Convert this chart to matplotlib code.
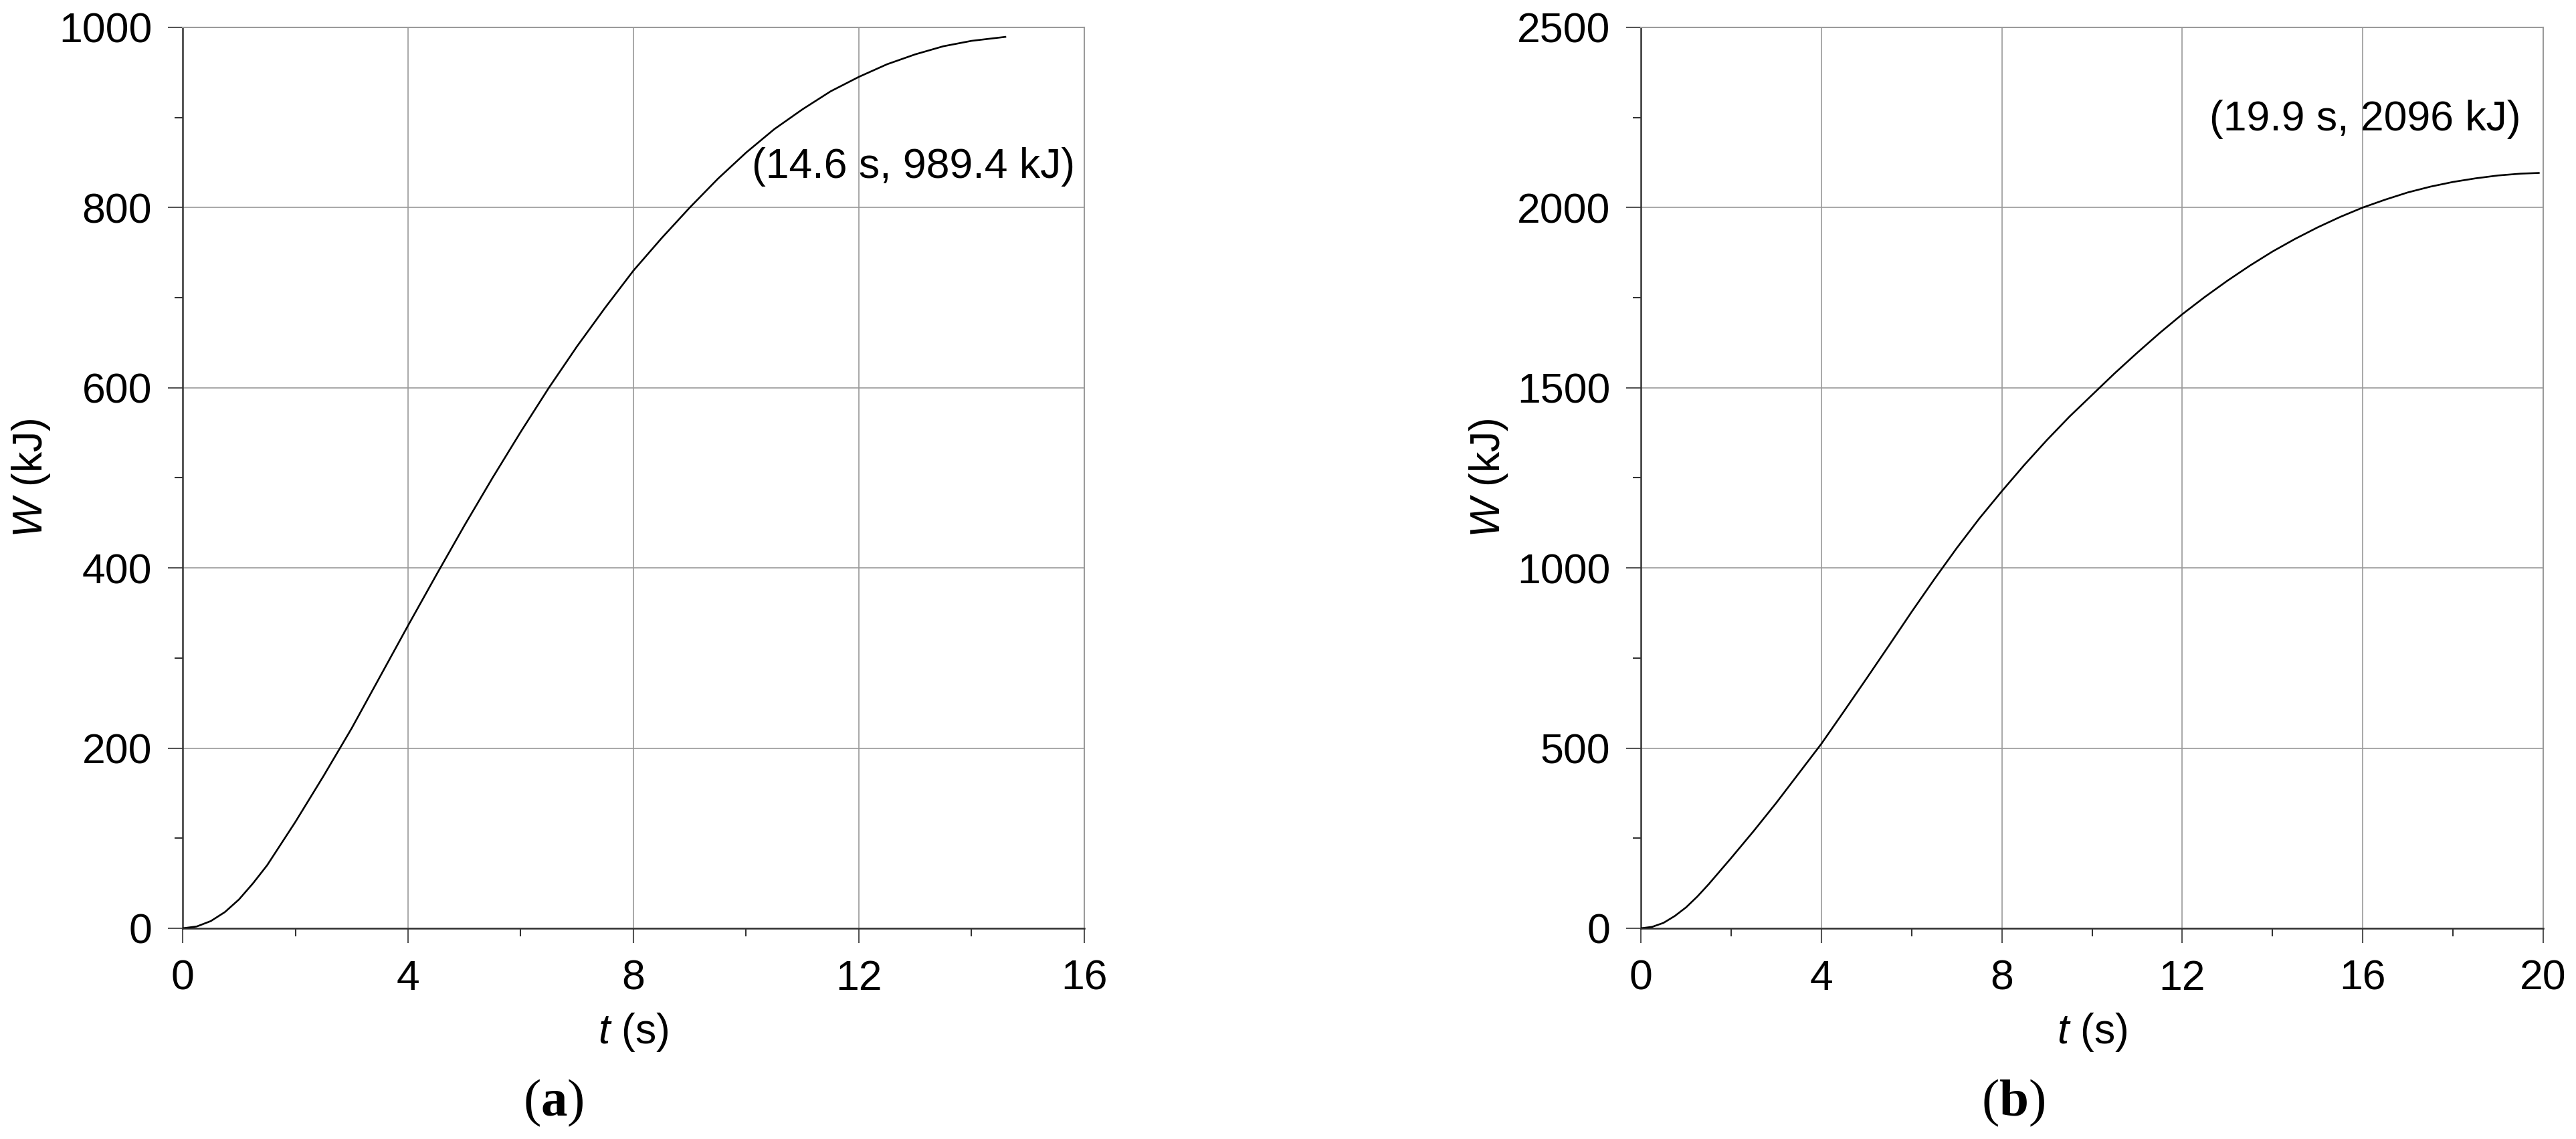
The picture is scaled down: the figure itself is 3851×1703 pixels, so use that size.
import matplotlib
matplotlib.use("Agg")
import matplotlib.pyplot as plt
from matplotlib.ticker import MultipleLocator

plt.rcParams['font.family'] = ['Liberation Sans', 'DejaVu Sans']
plt.rcParams['mathtext.fontset'] = 'custom'
plt.rcParams['mathtext.rm'] = 'Liberation Sans'
plt.rcParams['mathtext.it'] = 'Liberation Sans:italic'
plt.rcParams['mathtext.bf'] = 'Liberation Serif:bold'

# (a) work vs time
t_a = [0, 0.25, 0.5, 0.75, 1, 1.25, 1.5, 2, 2.5, 3, 3.5, 4, 4.5, 5, 5.5, 6,
       6.5, 7, 7.5, 8, 8.5, 9, 9.5, 10, 10.5, 11, 11.5, 12, 12.5, 13, 13.5,
       14, 14.6]
w_a = [0, 2, 8, 18, 32, 50, 70, 118, 169, 222, 279, 336, 392, 447, 500, 551,
       600, 646, 689, 730, 766, 800, 832, 861, 887, 909, 929, 945, 959, 970,
       979, 985, 989.4]

# (b)
t_b = [0, 0.25, 0.5, 0.75, 1, 1.25, 1.5, 2, 2.5, 3, 3.5, 4, 4.5, 5, 5.5, 6,
       6.5, 7, 7.5, 8, 8.5, 9, 9.5, 10, 10.5, 11, 11.5, 12, 12.5, 13, 13.5,
       14, 14.5, 15, 15.5, 16, 16.5, 17, 17.5, 18, 18.5, 19, 19.5, 19.9]
w_b = [0, 4, 15, 34, 58, 88, 122, 195, 270, 348, 430, 512, 602, 693, 785, 878,
       968, 1055, 1137, 1213, 1286, 1355, 1420, 1480, 1540, 1597, 1652, 1704,
       1752, 1797, 1839, 1878, 1913, 1945, 1974, 2000, 2022, 2042, 2058, 2071,
       2081, 2089, 2094, 2096]

notes = ['(14.6 s, 989.4 kJ)', '(19.9 s, 2096 kJ)']
panels = ['(a)', '(b)']

fs = 45
fig = plt.figure(figsize=(38.51, 17.03), dpi=100)
ax1 = fig.add_axes([0.0709, 0.1850, 0.3500, 0.7910])
ax2 = fig.add_axes([0.6370, 0.1850, 0.3503, 0.7910])

setups = [
    (ax1, t_a, w_a, 16, 1000, 4, 2, 200, 100, notes[0], (0.9896, 0.845)),
    (ax2, t_b, w_b, 20, 2500, 4, 2, 500, 250, notes[1], (0.975, 0.8976)),
]

for ax, t, w, xmax, ymax, xmaj, xmin_, ymaj, ymin_, note, pos in setups:
    ax.plot(t, w, color='black', lw=1.9, zorder=3)
    ax.set_xlim(0, xmax)
    ax.set_ylim(0, ymax)
    ax.xaxis.set_major_locator(MultipleLocator(xmaj))
    ax.xaxis.set_minor_locator(MultipleLocator(xmin_))
    ax.yaxis.set_major_locator(MultipleLocator(ymaj))
    ax.yaxis.set_minor_locator(MultipleLocator(ymin_))
    ax.grid(True, which='major', color='#9a9a9a', lw=1.2)
    ax.set_axisbelow(True)
    ax.tick_params(which='major', direction='out', length=16, width=1.5,
                   color='#555555', labelsize=fs, pad=17)
    ax.tick_params(which='minor', direction='out', length=8.5, width=1.5,
                   color='#333333')
    for s in ['left', 'bottom']:
        ax.spines[s].set_color('#333333')
        ax.spines[s].set_linewidth(1.8)
    for s in ['top', 'right']:
        ax.spines[s].set_color('#9a9a9a')
        ax.spines[s].set_linewidth(1.5)
    ax.set_xlabel(r'$\mathit{t}$ (s)', fontsize=fs)
    ax.set_ylabel(r'$\mathit{W}$ (kJ)', fontsize=fs)
    ax.xaxis.set_label_coords(0.5, -0.092)
    ax.yaxis.set_label_coords(-0.145, 0.5)
    ax.text(pos[0], pos[1], note, transform=ax.transAxes, ha='right',
            va='center', fontsize=fs)

fig.text(0.2148, 0.0206, r'($\mathbf{a}$)', family='Liberation Serif',
         fontsize=57, ha='center', va='baseline')
fig.text(0.7814, 0.0206, r'($\mathbf{b}$)', family='Liberation Serif',
         fontsize=57, ha='center', va='baseline')

fig.savefig('out.png', dpi=100)
